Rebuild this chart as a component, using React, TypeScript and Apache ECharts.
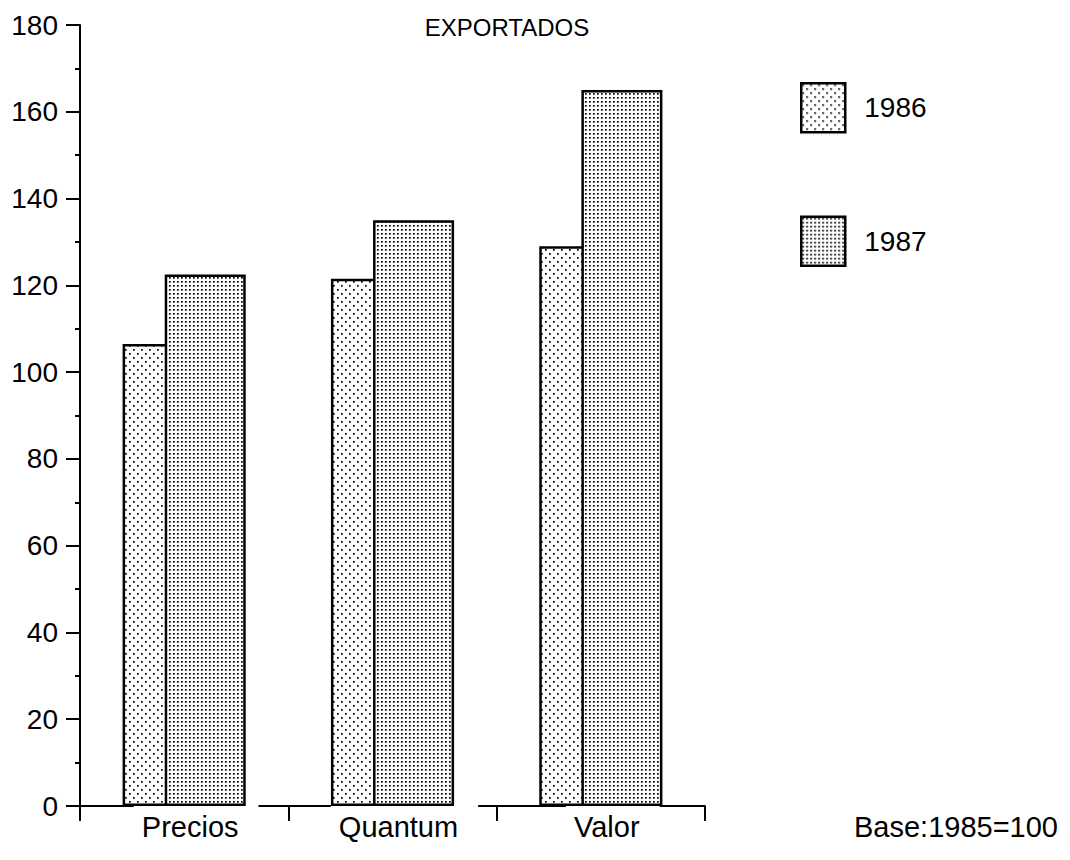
import { useEffect, useRef } from 'react';
import * as echarts from 'echarts';

const categories = ['Precios', 'Quantum', 'Valor'];
const seriesNames = ['1986', '1987'];
const values1986 = [106.5, 121.5, 129];
const values1987 = [122.5, 135, 165];
const yMin = 0;
const yMax = 180;
const yInterval = 20;
const titleText = 'EXPORTADOS';
const noteText = 'Base:1985=100';

const FONT = "'Liberation Sans', Arial, sans-serif";

function dotTile(size: number, dots: number[][], d: number) {
  const rects = dots
    .map(([x, y]) => `<rect x='${x}' y='${y}' width='${d}' height='${d}' fill='black'/>`)
    .join('');
  const svg = `<svg xmlns='http://www.w3.org/2000/svg' width='${size}' height='${size}'><rect width='${size}' height='${size}' fill='white'/>${rects}</svg>`;
  return {
    image: 'data:image/svg+xml;charset=utf-8,' + encodeURIComponent(svg),
    repeat: 'repeat',
    imageWidth: size,
    imageHeight: size,
  } as any;
}

const pattern1986 = dotTile(8, [[1, 1], [5, 5]], 1.7);
const pattern1987 = dotTile(4, [[1, 1]], 1.7);

export default function App() {
  const ref = useRef<HTMLDivElement>(null);
  useEffect(() => {
    if (!ref.current) return;
    const chart = echarts.init(ref.current, undefined, { renderer: 'svg' });
    chart.setOption({
      animation: false,
      backgroundColor: '#fff',
      textStyle: { fontFamily: FONT, color: '#000' },
      title: [
        {
          text: titleText,
          left: 507,
          top: 15,
          padding: 0,
          textAlign: 'center',
          textStyle: { fontFamily: FONT, fontSize: 24, fontWeight: 'normal', color: '#000' },
        },
        {
          text: noteText,
          right: 12,
          top: 812,
          padding: 0,
          textStyle: { fontFamily: FONT, fontSize: 29, fontWeight: 'normal', color: '#000' },
        },
      ],
      legend: {
        data: seriesNames,
        orient: 'vertical',
        left: 800,
        top: 82,
        padding: 0,
        itemWidth: 44,
        itemHeight: 49,
        itemGap: 82,
        icon: 'rect',
        itemStyle: { borderColor: '#000', borderWidth: 2.5 },
        textStyle: { fontFamily: FONT, fontSize: 28, color: '#000', padding: [0, 0, 0, 14] },
        selectedMode: false,
      },
      grid: { left: 80, top: 25, right: 365, bottom: 54, containLabel: false },
      xAxis: {
        type: 'category',
        data: categories,
        axisLine: { show: true, lineStyle: { color: '#000', width: 2 } },
        axisTick: { show: true, length: 15, lineStyle: { color: '#000', width: 2 } },
        axisLabel: {
          margin: -3,
          formatter: (v: string) => `{s| }{t|${v}}`,
          rich: {
            s: { width: 24, fontSize: 29, lineHeight: 32 },
            t: {
              fontFamily: FONT,
              fontSize: 29,
              lineHeight: 32,
              color: '#000',
              backgroundColor: '#fff',
              padding: [17, 20, 2, 8],
            },
          },
        },
        splitLine: { show: false },
      },
      yAxis: {
        type: 'value',
        min: yMin,
        max: yMax,
        interval: yInterval,
        axisLine: { show: true, lineStyle: { color: '#000', width: 2 } },
        axisTick: { show: true, length: 14, lineStyle: { color: '#000', width: 2 } },
        minorTick: { show: true, splitNumber: 2, length: 5, lineStyle: { color: '#000', width: 2 } },
        axisLabel: { margin: 22, fontFamily: FONT, fontSize: 28, color: '#000' },
        splitLine: { show: false },
      },
      series: [
        {
          name: seriesNames[0],
          type: 'bar',
          data: values1986,
          barWidth: 81,
          barGap: '-48%',
          itemStyle: { color: pattern1986, borderColor: '#000', borderWidth: 2.5 },
        },
        {
          name: seriesNames[1],
          type: 'bar',
          data: values1987,
          barWidth: 81,
          barGap: '-48%',
          itemStyle: { color: pattern1987, borderColor: '#000', borderWidth: 2.5 },
        },
      ],
    });
    return () => chart.dispose();
  }, []);
  return (
    <div
      ref={ref}
      style={{ position: 'absolute', left: 0, top: 0, width: 1070, height: 860 }}
    />
  );
}
